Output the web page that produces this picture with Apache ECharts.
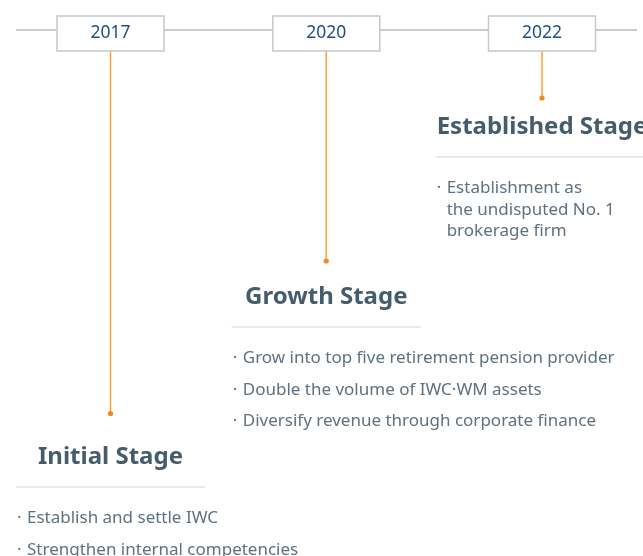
<!DOCTYPE html>
<html>
<head>
<meta charset="utf-8">
<script src="https://cdn.jsdelivr.net/npm/echarts@6/dist/echarts.min.js"></script>
<style>
html, body { margin: 0; padding: 0; background: #fff; }
#chart { width: 643px; height: 556px; }
</style>
</head>
<body>
<div id="chart"></div>
<script>
// 연도 / 단계 데이터
var years = ['2017', '2020', '2022'];
var stages = ['Initial Stage', 'Growth Stage', 'Established Stage'];
// 타임라인 아래 점까지의 깊이
var stemDepth = [383.5, 231, 68];
// 단계 제목 깊이
var titleDepth = [427, 267, 97];
var bullets = [
    ['Establish and settle IWC', 'Strengthen internal competencies'],
    ['Grow into top five retirement pension provider', 'Double the volume of IWC\u00b7WM assets', 'Diversify revenue through corporate finance'],
    ['Establishment as\nthe undisputed No. 1\nbrokerage firm']
];

var FONT = '"Noto Sans", "Open Sans", sans-serif';
var measureCtx = document.createElement('canvas').getContext('2d');

function textWidth(str, font) {
    measureCtx.font = font;
    return measureCtx.measureText(str).width;
}

function renderTimeline(params, api) {
    var a = api.coord([0, 0]);
    var b = api.coord([years.length - 1, 0]);
    return {
        type: 'line',
        shape: { x1: a[0] - 94.5, y1: a[1], x2: b[0] + 95, y2: b[1] },
        style: { stroke: '#8e99a5', lineWidth: 1.2 }
    };
}

function renderStage(params, api) {
    var i = params.dataIndex;
    var top = api.coord([i, 0]);
    var dot = api.coord([i, api.value(1)]);
    var head = api.coord([i, api.value(2)]);
    var cx = top[0];
    var boxW = 107, boxH = 35;
    var boxTop = top[1] - 14;

    var tw = textWidth(stages[i], 'bold 24px ' + FONT);
    var half = Math.max(94.5, tw / 2 + 1);
    var left = cx - half;
    var sepY = head[1] + 30;

    var children = [
        {
            type: 'line',
            shape: { x1: cx, y1: boxTop + boxH, x2: cx, y2: dot[1] },
            style: { stroke: '#f6a23a', lineWidth: 1.5 }
        },
        {
            type: 'circle',
            shape: { cx: cx, cy: dot[1], r: 2.6 },
            style: { fill: '#f08c1c' }
        },
        {
            type: 'rect',
            shape: { x: cx - boxW / 2, y: boxTop, width: boxW, height: boxH },
            style: { fill: '#fff', stroke: '#c3c9cf', lineWidth: 1.5 }
        },
        {
            type: 'text',
            style: {
                text: years[i], x: cx, y: boxTop + boxH / 2,
                align: 'center', verticalAlign: 'middle',
                fontSize: 17.5, fontFamily: FONT, fill: '#1f4f8a'
            }
        },
        {
            type: 'text',
            style: {
                text: stages[i], x: cx, y: head[1],
                align: 'center', verticalAlign: 'middle',
                fontSize: 24, fontWeight: 'bold', fontFamily: FONT, fill: '#455c6c'
            }
        },
        {
            type: 'line',
            shape: { x1: left, y1: sepY, x2: cx + half, y2: sepY },
            style: { stroke: '#dfe4e9', lineWidth: 1.5 }
        }
    ];

    var y = sepY + 31.5;
    bullets[i].forEach(function(b) {
        var lines = b.split('\n').length;
        children.push({
            type: 'text',
            style: {
                text: '\u00b7', x: left + 1, y: y,
                align: 'left', verticalAlign: 'middle',
                fontSize: 17, fontFamily: FONT, fill: '#5e7181'
            }
        });
        children.push({
            type: 'text',
            style: {
                text: b, x: left + 11, y: y - 10.75,
                align: 'left', verticalAlign: 'top', lineHeight: 21.5,
                fontSize: 17, fontFamily: FONT, fill: '#5e7181'
            }
        });
        y += 31.5 + (lines - 1) * 21.5;
    });

    return { type: 'group', children: children };
}

var chart = echarts.init(document.getElementById('chart'));

var option = {
    animation: false,
    grid: { left: 110.5, right: 101, top: 30, bottom: 0 },
    xAxis: { type: 'category', data: years, boundaryGap: false, show: false },
    yAxis: { type: 'value', min: 0, max: 526, inverse: true, show: false },
    series: [
        {
            type: 'custom',
            clip: false,
            renderItem: renderTimeline,
            data: [[0, 0]]
        },
        {
            type: 'custom',
            clip: false,
            renderItem: renderStage,
            encode: { x: 0, y: 1 },
            data: years.map(function(y, i) { return [i, stemDepth[i], titleDepth[i]]; })
        }
    ]
};

chart.setOption(option);
</script>
</body>
</html>
